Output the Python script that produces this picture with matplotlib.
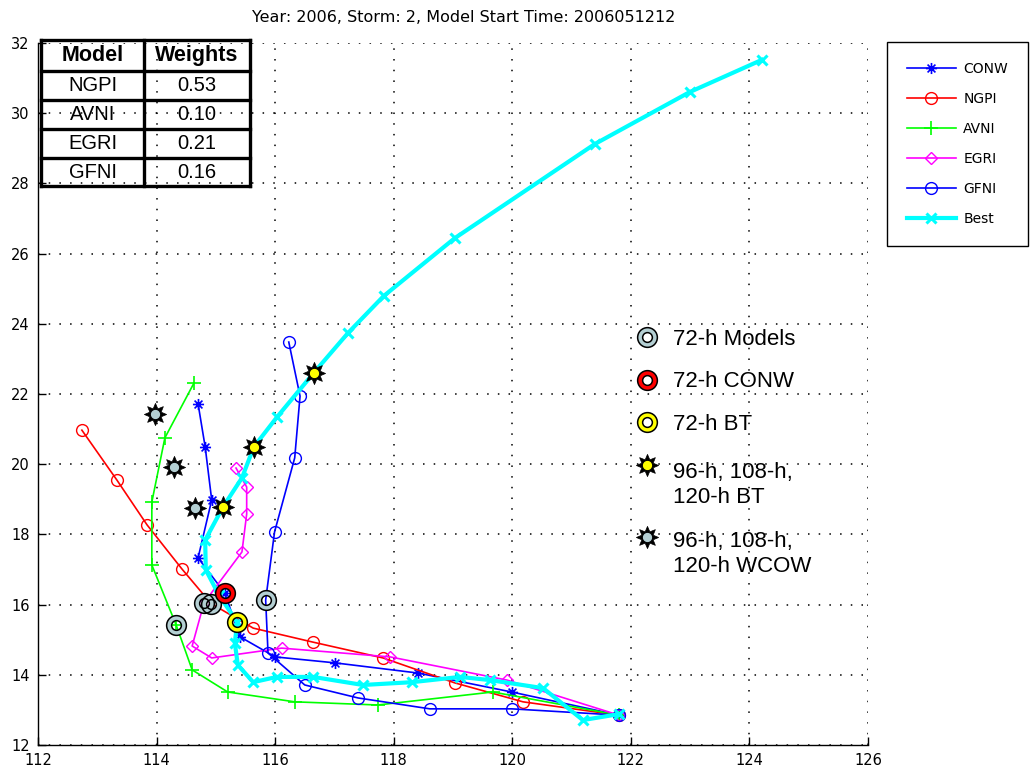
import numpy as np
import matplotlib
matplotlib.use('Agg')
import matplotlib.pyplot as plt
from matplotlib.path import Path

title = "Year: 2006, Storm: 2, Model Start Time: 2006051212"

# ---- tracks (lon, lat), 12-hourly for models, 6-hourly best track ----
conw_lon = [121.80, 119.99, 118.41, 117.01, 116.00, 115.41, 115.15, 114.70, 114.93, 114.82, 114.70]
conw_lat = [12.85, 13.51, 14.05, 14.34, 14.51, 15.08, 16.33, 17.33, 18.98, 20.49, 21.72]

ngpi_lon = [121.80, 120.18, 119.03, 117.82, 116.64, 115.63, 114.92, 114.43, 113.84, 113.33, 112.74]
ngpi_lat = [12.85, 13.23, 13.77, 14.48, 14.93, 15.33, 16.03, 17.01, 18.27, 19.55, 20.97]

avni_lon = [121.80, 119.67, 117.73, 116.33, 115.20, 114.60, 114.33, 113.92, 113.92, 114.14, 114.63]
avni_lat = [12.85, 13.51, 13.14, 13.23, 13.51, 14.14, 15.42, 17.13, 18.92, 20.75, 22.31]

egri_lon = [121.80, 119.91, 117.94, 116.11, 114.93, 114.60, 114.80, 115.44, 115.52, 115.52, 115.34]
egri_lat = [12.85, 13.85, 14.51, 14.76, 14.48, 14.82, 16.05, 17.50, 18.58, 19.35, 19.89]

gfni_lon = [121.80, 119.99, 118.61, 117.40, 116.50, 115.88, 115.84, 115.99, 116.33, 116.42, 116.23]
gfni_lat = [12.85, 13.03, 13.03, 13.34, 13.71, 14.62, 16.13, 18.07, 20.18, 21.94, 23.48]

best_lon = [121.80, 121.19, 120.52, 119.62, 119.12, 118.31, 117.48, 116.64, 116.03, 115.63,
            115.37, 115.32, 115.36, 115.05, 114.83, 114.82, 115.12, 115.44, 115.64, 116.03,
            116.65, 117.23, 117.83, 119.03, 121.39, 122.99, 124.21]
best_lat = [12.88, 12.71, 13.62, 13.85, 13.94, 13.79, 13.71, 13.94, 13.94, 13.79,
            14.28, 14.91, 15.50, 16.28, 16.99, 17.84, 18.78, 19.61, 20.49, 21.34,
            22.60, 23.74, 24.79, 26.44, 29.12, 30.60, 31.52]

# WCOW forecast positions at 96, 108, 120 h
wcow_lon = [114.65, 114.29, 113.97]
wcow_lat = [18.75, 19.92, 21.43]

table_models = ['NGPI', 'AVNI', 'EGRI', 'GFNI']
table_weights = [0.53, 0.10, 0.21, 0.16]

legend_labels = ['CONW', 'NGPI', 'AVNI', 'EGRI', 'GFNI', 'Best']
key_labels = ['72-h Models', '72-h CONW', '72-h BT', '96-h, 108-h,\n120-h BT', '96-h, 108-h,\n120-h WCOW']

xticks = [112, 114, 116, 118, 120, 122, 124, 126]
yticks = [12, 14, 16, 18, 20, 22, 24, 26, 28, 30, 32]

# ---- custom markers ----
ast_verts = []
ast_codes = []
for ang in np.arange(4) * np.pi / 4:
    c, s = np.cos(ang), np.sin(ang)
    ast_verts += [(-c, -s), (c, s)]
    ast_codes += [Path.MOVETO, Path.LINETO]
asterisk = Path(ast_verts, ast_codes)

sun_ang = np.arange(16) * np.pi / 8 + np.pi / 2
sun_r = np.where(np.arange(16) % 2 == 0, 1.0, 0.55)
sun_v = np.column_stack([sun_r * np.cos(sun_ang), sun_r * np.sin(sun_ang)])
sun_v = np.vstack([sun_v, sun_v[:1]])
sun = Path(sun_v, [Path.MOVETO] + [Path.LINETO] * 15 + [Path.CLOSEPOLY])

GRAY = '#b4cfd3'
BLUE = '#0000ff'
RED = '#ff0000'
GREEN = '#00ff00'
MAG = '#ff00ff'
CYAN = '#00ffff'
YEL = '#ffff00'

fig = plt.figure(figsize=(10.31, 7.78), dpi=100)
ax = fig.add_axes([38 / 1031, 1 - 745 / 778, 830 / 1031, 702 / 778])

lw = 1.2
h1, = ax.plot(conw_lon, conw_lat, color=BLUE, lw=lw, marker=asterisk, ms=8, mfc='none', mec=BLUE, mew=1.2)
h2, = ax.plot(ngpi_lon, ngpi_lat, color=RED, lw=lw, marker='o', ms=8.5, mfc='none', mec=RED, mew=1.0)
h3, = ax.plot(avni_lon, avni_lat, color=GREEN, lw=lw, marker='+', ms=10, mec=GREEN, mew=1.2)
h4, = ax.plot(egri_lon, egri_lat, color=MAG, lw=lw, marker='D', ms=6, mfc='none', mec=MAG, mew=1.0)
h5, = ax.plot(gfni_lon, gfni_lat, color=BLUE, lw=lw, marker='o', ms=8.5, mfc='none', mec=BLUE, mew=1.0)
h6, = ax.plot(best_lon, best_lat, color=CYAN, lw=3.0, marker='x', ms=6.5, mec=CYAN, mew=2.2)


def ring(x, y, color, clip=True):
    ax.plot(x, y, 'o', ls='none', ms=10.6, mfc='none', mec=color, mew=3.6, clip_on=clip, zorder=5)
    ax.plot(x, y, 'o', ls='none', ms=14.2, mfc='none', mec='k', mew=1.1, clip_on=clip, zorder=5)
    ax.plot(x, y, 'o', ls='none', ms=7.0, mfc='none', mec='k', mew=1.1, clip_on=clip, zorder=5)


def sunmark(x, y, color, clip=True):
    ax.plot(x, y, ls='none', marker=sun, ms=16, mfc='k', mec='k', mew=0.5, clip_on=clip, zorder=6)
    ax.plot(x, y, 'o', ls='none', ms=7.5, mfc=color, mec='k', mew=0.8, clip_on=clip, zorder=6)


# 72-h positions (index 6 of model tracks, index 12 of best track)
m72_lon = [ngpi_lon[6], avni_lon[6], egri_lon[6], gfni_lon[6]]
m72_lat = [ngpi_lat[6], avni_lat[6], egri_lat[6], gfni_lat[6]]
ring(m72_lon, m72_lat, GRAY)
ring([conw_lon[6]], [conw_lat[6]], RED)
ring([best_lon[12]], [best_lat[12]], YEL)

# 96/108/120-h BT and WCOW
sunmark([best_lon[16], best_lon[18], best_lon[20]], [best_lat[16], best_lat[18], best_lat[20]], YEL)
sunmark(wcow_lon, wcow_lat, GRAY)

# in-plot key
key_x = 122.27
key_tx = 122.71
key_my = [23.62, 22.40, 21.20, 19.98, 17.93]
key_ty = [23.40, 22.20, 20.97, 18.89, 16.93]   # baseline of the last line of each label
ring([key_x], [key_my[0]], GRAY)
ring([key_x], [key_my[1]], RED)
ring([key_x], [key_my[2]], YEL)
sunmark([key_x], [key_my[3]], YEL)
sunmark([key_x], [key_my[4]], GRAY)
for lab, ty in zip(key_labels, key_ty):
    ax.text(key_tx, ty, lab, fontsize=16, family='Liberation Sans', va='baseline', ha='left',
            linespacing=1.25, zorder=7)

ax.set_xlim(112, 126)
ax.set_ylim(12, 32)
ax.set_xticks(xticks)
ax.set_yticks(yticks)
ax.tick_params(direction='in', length=6, width=1, labelsize=10.5, pad=6, top=False, right=False)
for lbl in ax.get_xticklabels() + ax.get_yticklabels():
    lbl.set_family('DejaVu Sans')
ax.spines['top'].set_visible(False)
ax.spines['right'].set_visible(False)
ax.spines['left'].set_linewidth(1)
ax.spines['bottom'].set_linewidth(1)
ax.grid(True, color='k', linestyle=(0, (1, 6)), linewidth=1.1)
ax.set_axisbelow(True)

fig.text(464 / 1031, 1 - 17 / 778, title, fontsize=11.5, family='DejaVu Sans', ha='center', va='center')

leg = ax.legend([h1, h2, h3, h4, h5, h6], legend_labels, loc='upper left',
                bbox_to_anchor=(887 / 1031, 1 - 42 / 778), bbox_transform=fig.transFigure,
                borderaxespad=0, fancybox=False, edgecolor='k', framealpha=1,
                prop={'family': 'DejaVu Sans', 'size': 10}, handlelength=3.5,
                handletextpad=0.55, labelspacing=1.15, borderpad=1.45, numpoints=1)
leg.get_frame().set_linewidth(1.0)

# weights table
tx0, tx1, tx2 = 41, 144, 250
ty = [40, 70.5, 99.5, 129, 158, 186]
tab = fig.add_axes([0, 0, 1, 1], facecolor='none')
tab.set_xlim(0, 1031)
tab.set_ylim(778, 0)
tab.axis('off')
for yv in ty:
    tab.plot([tx0, tx2], [yv, yv], color='k', lw=2.4, solid_capstyle='projecting')
for xv in (tx0, tx1, tx2):
    tab.plot([xv, xv], [ty[0], ty[-1]], color='k', lw=2.4, solid_capstyle='projecting')
cx0 = (tx0 + tx1) / 2
cx1 = (tx1 + tx2) / 2
tab.text(cx0, (ty[0] + ty[1]) / 2, 'Model', fontsize=15.5, weight='bold', family='Liberation Sans',
         ha='center', va='center')
tab.text(cx1, (ty[0] + ty[1]) / 2, 'Weights', fontsize=15.5, weight='bold', family='Liberation Sans',
         ha='center', va='center')
for i, (m, w) in enumerate(zip(table_models, table_weights)):
    yc = (ty[i + 1] + ty[i + 2]) / 2
    tab.text(cx0, yc, m, fontsize=14.5, family='Liberation Sans', ha='center', va='center')
    tab.text(cx1, yc, f'{w:.2f}', fontsize=14.5, family='Liberation Sans', ha='center', va='center')

fig.savefig('out.png', dpi=100)
